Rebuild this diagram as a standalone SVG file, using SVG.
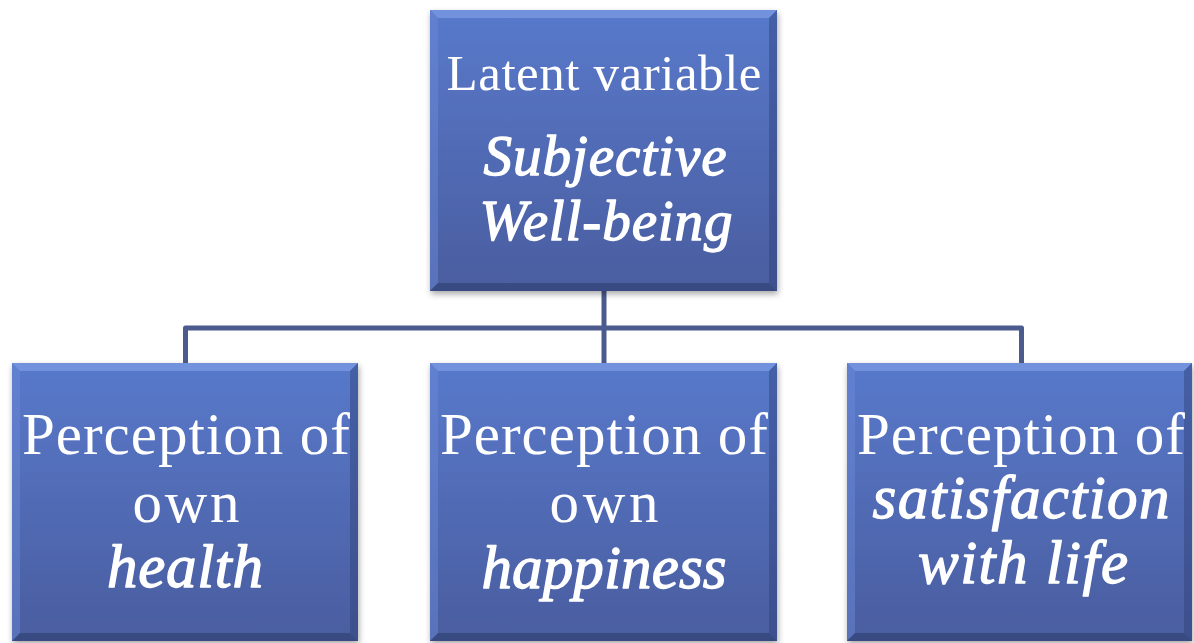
<svg xmlns="http://www.w3.org/2000/svg" width="1194" height="643" viewBox="0 0 1194 643">
<defs>
<linearGradient id="g" x1="0" y1="0" x2="0" y2="1">
<stop offset="0" stop-color="#5879cb"/>
<stop offset="1" stop-color="#4a5d9f"/>
</linearGradient>
<filter id="sh" x="-10%" y="-10%" width="120%" height="120%">
<feDropShadow dx="1" dy="3" stdDeviation="3" flood-color="#000" flood-opacity="0.35"/>
</filter>
</defs>
<style>
.box{fill:url(#g);}
.bt{fill:#7896e0;opacity:0.85}
.bl{fill:#6a88d6;opacity:0.5}
.br{fill:#2f4178;opacity:0.45}
.bb{fill:#2c3b6c;opacity:0.55}
.t{font-family:"Liberation Serif","Times New Roman",serif;fill:#fff;text-anchor:middle}
.i{font-style:italic;stroke:#fff;stroke-width:1.3;stroke-linejoin:round}
.con{fill:none;stroke:#4b5b8e;stroke-width:5;stroke-linejoin:round}
</style>
<g id="connectors">
<path class="con" d="M604 291 V363"/>
<path class="con" d="M185.5 363 V328 H1021.5 V363"/>
</g>
<g id="top">
<g filter="url(#sh)"><rect class="box" x="430" y="10" width="347" height="281"/></g>
<polygon class="bt" points="430,10 777,10 769,18 438,18"/>
<polygon class="bl" points="430,10 438,18 438,283 430,291"/>
<polygon class="br" points="777,10 777,291 769,283 769,18"/>
<polygon class="bb" points="430,291 438,283 769,283 777,291"/>
<text class="t" x="604" y="90" font-size="51" textLength="315">Latent variable</text>
<text class="t i" x="605" y="175" font-size="57" textLength="243">Subjective</text>
<text class="t i" x="606" y="240" font-size="57" textLength="253">Well-being</text>
</g>
<g id="health">
<g filter="url(#sh)"><rect class="box" x="12" y="363" width="346" height="278"/></g>
<polygon class="bt" points="12,363 358,363 350,371 20,371"/>
<polygon class="bl" points="12,363 20,371 20,633 12,641"/>
<polygon class="br" points="358,363 358,641 350,633 350,371"/>
<polygon class="bb" points="12,641 20,633 350,633 358,641"/>
<text class="t" x="186" y="454" font-size="59" textLength="328">Perception of</text>
<text class="t" x="186" y="522" font-size="59" textLength="107">own</text>
<text class="t i" x="185" y="587" font-size="61" textLength="156">health</text>
</g>
<g id="happiness">
<g filter="url(#sh)"><rect class="box" x="430" y="363" width="347" height="278"/></g>
<polygon class="bt" points="430,363 777,363 769,371 438,371"/>
<polygon class="bl" points="430,363 438,371 438,633 430,641"/>
<polygon class="br" points="777,363 777,641 769,633 769,371"/>
<polygon class="bb" points="430,641 438,633 769,633 777,641"/>
<text class="t" x="604" y="454" font-size="59" textLength="328">Perception of</text>
<text class="t" x="604" y="522" font-size="59" textLength="109">own</text>
<text class="t i" x="604" y="588" font-size="61" textLength="245">happiness</text>
</g>
<g id="satisfaction">
<g filter="url(#sh)"><rect class="box" x="847" y="363" width="345" height="278"/></g>
<polygon class="bt" points="847,363 1192,363 1184,371 855,371"/>
<polygon class="bl" points="847,363 855,371 855,633 847,641"/>
<polygon class="br" points="1192,363 1192,641 1184,633 1184,371"/>
<polygon class="bb" points="847,641 855,633 1184,633 1192,641"/>
<text class="t" x="1021" y="454" font-size="59" textLength="328">Perception of</text>
<text class="t i" x="1021" y="518" font-size="61" textLength="297">satisfaction</text>
<text class="t i" x="1023" y="583" font-size="61" textLength="210">with life</text>
</g>
</svg>
